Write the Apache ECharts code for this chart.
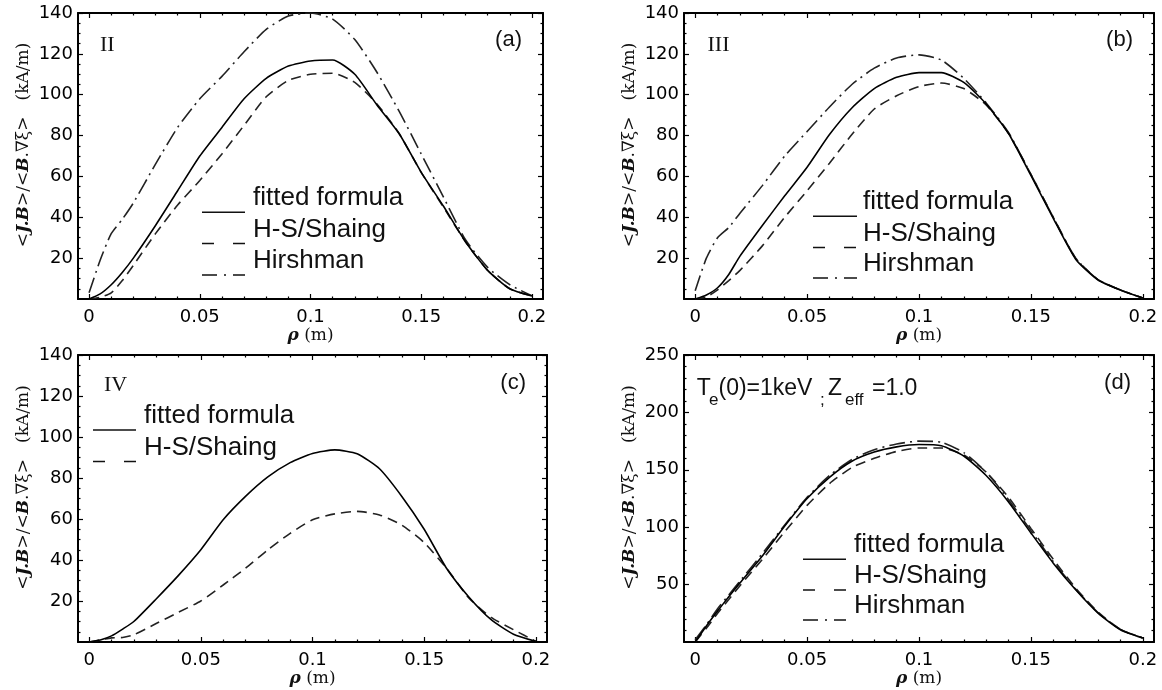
<!DOCTYPE html>
<html><head><meta charset="utf-8">
<script src="https://cdn.jsdelivr.net/npm/echarts@6/dist/echarts.min.js"></script>
<style>html,body{margin:0;padding:0;background:#fff}#c{width:1162px;height:690px}</style>
</head><body><div id="c"></div>
<script>
// ---- data ----
const rho = [0,0.005,0.01,0.015,0.02,0.03,0.04,0.05,0.06,0.07,0.08,0.09,0.1,0.11,0.12,0.13,0.14,0.15,0.16,0.17,0.18,0.19,0.2];

// (a) case II
const fitA = [0,2.5,7,13,20,36,53,70,84,98,108,114,116.5,117,110,95,81,62,45.5,28,14,5,1.5];
const hsA  = [0,0.8,3,9,16.5,32,46,58,71,85,99,107,110,110.5,106,95.5,81,62,45,28,14,5,1.5];
const hirA = [3,19,32,39,47,66,84,98,109,121,132,138.5,140,137,127,111,92,71,50,29,15.5,7,1.6];

// (b) case III
const fitB = [0,2,5.5,12,21,36,50.5,64.5,80.5,93.5,103,108.5,110.8,110.8,106,95.5,81,60.5,39.5,19.5,9.3,4.4,0.5];
const hsB  = [0,1,4.5,9,14,26,40,53,66.5,80.5,93,99.5,104,105.7,103,95,81,61,40,20,9.5,4.4,0.5];
const hirB = [4,20,30,35,42,55.5,70,82,94,105,113,118,119.5,117,108,96,81.5,61,40,20,9.5,4.4,0.5];

// (c) case IV
const fitC = [0,1,3,6.3,10,21,32.5,45,59.6,71,80.5,87.5,92,93.7,91.8,84.5,71,55,36,22,10.9,3.8,0.3];
const hsC  = [0,1,2,2.2,3.5,9,14.5,20,27.8,36,45,53,59.6,62.5,63.7,62,57,48.5,36,21.5,12,6,0.3];

// (d) Te(0)=1keV, Zeff=1.0
const fitD = [0,14,27,39.4,51.5,75,101,125,143.5,157.5,165.5,170,172,171,162,145,122,95,68.7,45.5,25.2,10.7,3.5];
const hsD  = [0,12,25,37,49,72,96,119,138,152,160,166,169,169,163,148,126,99,72,47,26,11,3.5];
const hirD = [2,15,29,41,53,77,102,126,145,159,167.5,172.5,175,174,165,148,124,97,70,46,25.5,11,3.5];

// ---- ticks / labels ----
const xMajor = [0,0.05,0.1,0.15,0.2];
const xMinor = [0.01,0.02,0.03,0.04,0.06,0.07,0.08,0.09,0.11,0.12,0.13,0.14,0.16,0.17,0.18,0.19];
const yMajor140 = [20,40,60,80,100,120,140];
const yMinor140 = [];
for (let v = 5; v < 140; v += 5) if (v % 20) yMinor140.push(v);
const yMajor250 = [50,100,150,200,250];
const yMinor250 = [];
for (let v = 10; v < 250; v += 10) if (v % 50) yMinor250.push(v);

const legendNames = ['fitted formula','H-S/Shaing','Hirshman'];
const XMIN = -0.005, XMAX = 0.205;

const panels = [
  {rect:{left:78, top:13, width:465, height:286}, ymax:140, yMajor:yMajor140, yMinor:yMinor140,
   series:[[fitA,'solid'],[hsA,'dash'],[hirA,'dashdot']]},
  {rect:{left:684, top:13, width:470, height:286}, ymax:140, yMajor:yMajor140, yMinor:yMinor140,
   series:[[fitB,'solid'],[hsB,'dash'],[hirB,'dashdot']]},
  {rect:{left:78, top:355, width:469, height:287}, ymax:140, yMajor:yMajor140, yMinor:yMinor140,
   series:[[fitC,'solid'],[hsC,'dash']]},
  {rect:{left:684, top:355, width:470, height:287}, ymax:250, yMajor:yMajor250, yMinor:yMinor250,
   series:[[fitD,'solid'],[hsD,'dash'],[hirD,'dashdot']]}
];

const styles = {
  solid:   {type:'solid', color:'#000', width:1.6},
  dash:    {type:[10,6], color:'#222', width:1.6},
  dashdot: {type:[16,5,2,5], color:'#222', width:1.6}
};
const legendDash = {solid:null, dash:[12,19], dashdot:[15,7,2,7]};

const tickFont = {color:'#000', fontFamily:'DejaVu Sans', fontSize:18};
const serifName = {fontFamily:'DejaVu Serif', fontSize:17, color:'#111'};

const option = {animation:false, backgroundColor:'#fff', grid:[], xAxis:[], yAxis:[], series:[], graphic:[]};
const lineOn = {show:true, onZero:false, lineStyle:{color:'#000', width:2}};
const lineOff = {show:false, onZero:false};
const fmt = v => String(+(+v).toFixed(3));

panels.forEach((p, i) => {
  option.grid.push(Object.assign({show:false, containLabel:false, outerBoundsMode:'none'}, p.rect));
  option.grid.push(Object.assign({show:false, containLabel:false, outerBoundsMode:'none'}, p.rect));
  const gMain = 2*i, gMin = 2*i + 1;
  const xb = {type:'value', min:XMIN, max:XMAX, splitLine:{show:false}};
  const yb = {type:'value', min:0, max:p.ymax, splitLine:{show:false}};
  option.xAxis.push(Object.assign({}, xb, {gridIndex:gMain, position:'bottom', axisLine:lineOn,
    axisTick:{show:true, inside:true, length:5, customValues:xMajor, lineStyle:{color:'#000', width:1.2}},
    axisLabel:Object.assign({show:true, customValues:xMajor, margin:9, formatter:fmt}, tickFont),
    name:'{i|ρ} (m)', nameLocation:'middle', nameGap:28,
    nameTextStyle:Object.assign({}, serifName, {rich:{i:{fontFamily:'DejaVu Serif', fontSize:17, fontStyle:'italic', fontWeight:'bold', color:'#111'}}})
  }));
  option.xAxis.push(Object.assign({}, xb, {gridIndex:gMain, position:'top', axisLine:lineOn,
    axisTick:{show:true, inside:true, length:5, customValues:xMajor, lineStyle:{color:'#000', width:1.2}},
    axisLabel:{show:false}}));
  option.xAxis.push(Object.assign({}, xb, {gridIndex:gMin, position:'bottom', axisLine:lineOff,
    axisTick:{show:true, inside:true, length:2.5, customValues:xMinor, lineStyle:{color:'#000', width:1.2}},
    axisLabel:{show:false}}));
  option.xAxis.push(Object.assign({}, xb, {gridIndex:gMin, position:'top', axisLine:lineOff,
    axisTick:{show:true, inside:true, length:2.5, customValues:xMinor, lineStyle:{color:'#000', width:1.2}},
    axisLabel:{show:false}}));
  option.yAxis.push(Object.assign({}, yb, {gridIndex:gMain, position:'left', axisLine:lineOn,
    axisTick:{show:true, inside:true, length:5, customValues:p.yMajor, lineStyle:{color:'#000', width:1.2}},
    axisLabel:Object.assign({show:true, customValues:p.yMajor, margin:5}, tickFont),
    name:'{n|<}{i|J.B}{n|>/<}{i|B}{n|.∇ξ>   (kA/m)}', nameLocation:'middle', nameRotate:90, nameGap:46,
    nameTextStyle:Object.assign({}, serifName, {padding:[0,0,0,22], rich:{
      n:{fontFamily:'DejaVu Serif', fontSize:17, color:'#111'},
      i:{fontFamily:'DejaVu Serif', fontSize:17, fontStyle:'italic', fontWeight:'bold', color:'#111'}}})
  }));
  option.yAxis.push(Object.assign({}, yb, {gridIndex:gMain, position:'right', axisLine:lineOn,
    axisTick:{show:true, inside:true, length:5, customValues:p.yMajor, lineStyle:{color:'#000', width:1.2}},
    axisLabel:{show:false}}));
  option.yAxis.push(Object.assign({}, yb, {gridIndex:gMin, position:'left', axisLine:lineOff,
    axisTick:{show:true, inside:true, length:2.5, customValues:p.yMinor, lineStyle:{color:'#000', width:1.2}},
    axisLabel:{show:false}}));
  option.yAxis.push(Object.assign({}, yb, {gridIndex:gMin, position:'right', axisLine:lineOff,
    axisTick:{show:true, inside:true, length:2.5, customValues:p.yMinor, lineStyle:{color:'#000', width:1.2}},
    axisLabel:{show:false}}));

  p.series.forEach(([vals, st], k) => {
    option.series.push({
      type:'line', name:legendNames[k], xAxisIndex:4*i, yAxisIndex:4*i,
      data: rho.map((r, j) => [r, vals[j]]),
      showSymbol:false, symbol:'none', smooth:0.2,
      lineStyle: styles[st], z: 3 - k
    });
  });
});

// ---- legends (line sample + text, as in the reference) ----
const legends = [
  {x1:202, x2:245, tx:253, base:[207.3, 238.6, 269.9], keys:['solid','dash','dashdot']},
  {x1:813, x2:857, tx:863, base:[211.3, 242.4, 272.9], keys:['solid','dash','dashdot']},
  {x1:93,  x2:136, tx:144, base:[425, 456.5], keys:['solid','dash']},
  {x1:803, x2:846, tx:854, base:[554.3, 585, 615], keys:['solid','dash','dashdot']}
];
legends.forEach(L => {
  L.keys.forEach((k, r) => {
    const b = L.base[r];
    option.graphic.push({type:'line', silent:true, shape:{x1:L.x1, y1:b+5, x2:L.x2, y2:b+5},
      style:{stroke:'#111', lineWidth:1.5, lineDash:legendDash[k]}});
    option.graphic.push({type:'text', silent:true, x:L.tx, y:b - 9,
      style:{text:legendNames[r], fontSize:26, fontFamily:'Liberation Sans', fill:'#111', align:'left', verticalAlign:'middle'}});
  });
});

// ---- panel annotations ----
const roman = [['II',100,45.6],['III',707.5,45.6],['IV',104,385.6]];
roman.forEach(([t,x,y]) => option.graphic.push({type:'text', silent:true, x, y,
  style:{text:t, fontSize:22, fontFamily:'Liberation Serif', fill:'#111', align:'left', verticalAlign:'middle'}}));
const letters = [['(a)',522,39.8],['(b)',1133,39.8],['(c)',526,382.8],['(d)',1131,382.8]];
letters.forEach(([t,x,y]) => option.graphic.push({type:'text', silent:true, x, y,
  style:{text:t, fontSize:22, fontFamily:'Liberation Sans', fill:'#111', align:'right', verticalAlign:'middle'}}));
const ann = [['T',696.7,388.7,23],['e',709,400.1,17],['(0)=1keV',718.5,388.7,23],[';',820,400.1,17],
             ['Z',828,388.7,23],['eff',845,400.1,17],['=1.0',872,388.7,23]];
ann.forEach(([t,x,y,fs]) => option.graphic.push({type:'text', silent:true, x, y,
  style:{text:t, fontSize:fs, fontFamily:'Liberation Sans', fill:'#111', align:'left', verticalAlign:'middle'}}));

const chart = echarts.init(document.getElementById('c'), null, {renderer:'canvas'});
chart.setOption(option);
</script></body></html>
